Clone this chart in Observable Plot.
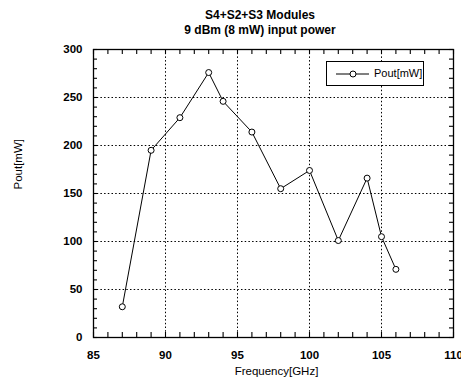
<!DOCTYPE html>
<html>
<head>
<meta charset="utf-8">
<script src="https://cdn.jsdelivr.net/npm/d3@7"></script>
<script src="https://cdn.jsdelivr.net/npm/@observablehq/plot@0.6"></script>
<style>
  body { margin: 0; background: #fff; font-family: "Liberation Sans", Arial, sans-serif; }
  #wrap { position: relative; width: 461px; height: 387px; }
  #title { height: 38px; box-sizing: border-box; padding-top: 8px; padding-left: 59px; text-align: center;
           font-weight: bold; font-size: 12px; line-height: 15px; color: #000; }
  #legend { position: absolute; left: 326px; top: 61px; width: 98px; height: 25px; box-sizing: border-box;
            border: 1.3px solid #000; background: #fff; font-size: 11px; }
  #legend svg { position: absolute; left: 0; top: 0; }
  #legend span { position: absolute; left: 47px; top: 5px; }
</style>
</head>
<body>
<div id="wrap">
  <div id="title">S4+S2+S3 Modules<br>9 dBm (8 mW) input power</div>
  <div id="chart"></div>
  <div id="legend">
    <svg width="46" height="23"><line x1="9" y1="12" x2="42" y2="12" stroke="#000" stroke-width="1"/><circle cx="26" cy="12" r="3" fill="#fff" stroke="#000"/></svg>
    <span>Pout[mW]</span>
  </div>
</div>
<script>
const freq = [87, 89, 91, 93, 94, 96, 98, 100, 102, 104, 105, 106];
const pout = [32, 195, 229, 276, 246, 214, 155, 174, 101, 166, 105, 71];
const xTicks = [85, 90, 95, 100, 105, 110];
const yTicks = [0, 50, 100, 150, 200, 250, 300];
const xGrid = [90, 95, 100, 105];
const yGrid = [50, 100, 150, 200, 250];
const xMinor = d3.range(85, 111, 1);
const yMinor = d3.range(0, 301, 10);
const xLabel = "Frequency[GHz]";
const yLabel = "Pout[mW]";

const data = freq.map((f, i) => ({f, p: pout[i]}));
const dots = "1.5,2.2";

const W = 461, H = 349, ML = 93, MR = 8, MT = 11, MB = 50;
const PW = W - ML - MR, PH = H - MT - MB;
const xt = 5, yt = 4;

const chart = Plot.plot({
  width: W,
  height: H,
  marginLeft: ML,
  marginRight: MR,
  marginTop: MT,
  marginBottom: MB,
  style: {fontFamily: "'Liberation Sans', Arial, sans-serif", fontSize: "11px", color: "#000", background: "#fff", overflow: "visible"},
  x: {domain: [85, 110]},
  y: {domain: [0, 300]},
  marks: [
    Plot.gridX(xGrid, {stroke: "#000", strokeOpacity: 1, strokeDasharray: dots, strokeWidth: 1}),
    Plot.gridY(yGrid, {stroke: "#000", strokeOpacity: 1, strokeDasharray: dots, strokeWidth: 1}),
    Plot.ruleX(xMinor, {x: d => d, insetTop: PH - xt, stroke: "#000", strokeWidth: 1.1}),
    Plot.ruleX(xMinor, {x: d => d, insetBottom: PH - xt, stroke: "#000", strokeWidth: 1.1}),
    Plot.ruleY(yMinor, {y: d => d, insetRight: PW - yt, stroke: "#000", strokeWidth: 1.1}),
    Plot.ruleY(yMinor, {y: d => d, insetLeft: PW - yt, stroke: "#000", strokeWidth: 1.1}),
    Plot.axisX({anchor: "bottom", ticks: xTicks, tickSize: 0, tickPadding: 13, fontWeight: "bold", fontSize: 11.5, label: null}),
    Plot.axisY({anchor: "left", ticks: yTicks, tickSize: 0, tickPadding: 11, fontWeight: "bold", fontSize: 11.5, label: null}),
    Plot.text([xLabel], {text: d => d, frameAnchor: "bottom", dy: 37, dx: 3, fontSize: 11.5}),
    Plot.text([yLabel], {text: d => d, frameAnchor: "left", rotate: -90, dx: -75.5, dy: -4, fontSize: 11.5}),
    Plot.frame({stroke: "#000", strokeWidth: 1.3}),
    Plot.line(data, {x: "f", y: "p", stroke: "#000", strokeWidth: 1}),
    Plot.dot(data, {x: "f", y: "p", r: 3, stroke: "#000", fill: "#fff", strokeWidth: 1})
  ]
});
document.getElementById("chart").appendChild(chart);
</script>
</body>
</html>
